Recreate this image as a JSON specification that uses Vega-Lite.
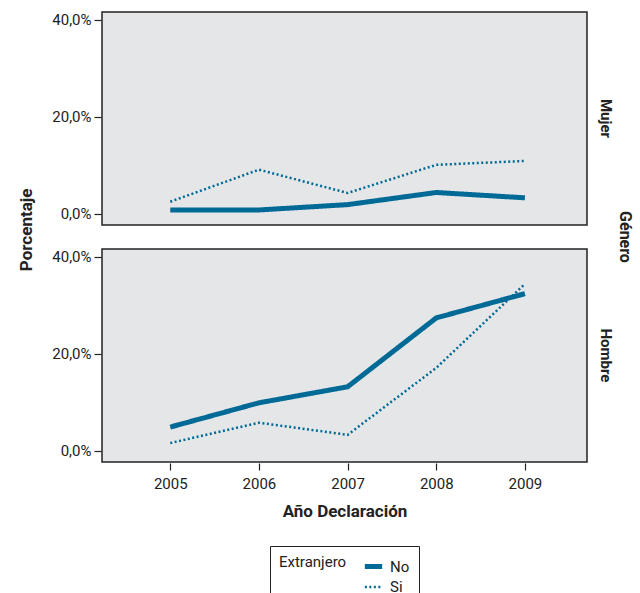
{
  "$schema": "https://vega.github.io/schema/vega-lite/v6.json",
  "padding": {"left": 17, "top": 11, "right": 5, "bottom": 0},
  "config": {
    "locale": {"number": {"decimal": ",", "thousands": ".", "grouping": [3], "currency": ["", " €"]}},
    "font": "Roboto",
    "view": {"fill": "#e5e6e8", "stroke": "#222222", "strokeWidth": 1.5},
    "axis": {"grid": false, "domain": false, "tickColor": "#222222", "tickSize": 7, "tickWidth": 1.2, "labelColor": "#222222", "labelFontSize": 15, "titleFontSize": 17, "titleFontWeight": "bold", "titleColor": "#222222"},
    "header": {"labelFontSize": 15, "labelFontWeight": "bold", "labelColor": "#222222", "titleFontSize": 16, "titleFontWeight": "bold", "titleColor": "#222222"},
    "legend": {"labelFontSize": 15, "titleFontSize": 15, "titleFontWeight": "normal", "labelColor": "#222222", "titleColor": "#222222"}
  },
  "title": {"text": "Porcentaje", "orient": "left", "anchor": "middle", "fontSize": 17, "fontWeight": "bold", "color": "#222222", "offset": 16, "dx": 78},
  "data": {"values": [
    {"Genero": "Mujer", "Extranjero": "No", "Anio": 2005, "Pct": 0.008},
    {"Genero": "Mujer", "Extranjero": "No", "Anio": 2006, "Pct": 0.008},
    {"Genero": "Mujer", "Extranjero": "No", "Anio": 2007, "Pct": 0.019},
    {"Genero": "Mujer", "Extranjero": "No", "Anio": 2008, "Pct": 0.044},
    {"Genero": "Mujer", "Extranjero": "No", "Anio": 2009, "Pct": 0.033},
    {"Genero": "Mujer", "Extranjero": "Si", "Anio": 2005, "Pct": 0.025},
    {"Genero": "Mujer", "Extranjero": "Si", "Anio": 2006, "Pct": 0.091},
    {"Genero": "Mujer", "Extranjero": "Si", "Anio": 2007, "Pct": 0.043},
    {"Genero": "Mujer", "Extranjero": "Si", "Anio": 2008, "Pct": 0.101},
    {"Genero": "Mujer", "Extranjero": "Si", "Anio": 2009, "Pct": 0.109},
    {"Genero": "Hombre", "Extranjero": "No", "Anio": 2005, "Pct": 0.049},
    {"Genero": "Hombre", "Extranjero": "No", "Anio": 2006, "Pct": 0.099},
    {"Genero": "Hombre", "Extranjero": "No", "Anio": 2007, "Pct": 0.132},
    {"Genero": "Hombre", "Extranjero": "No", "Anio": 2008, "Pct": 0.274},
    {"Genero": "Hombre", "Extranjero": "No", "Anio": 2009, "Pct": 0.324},
    {"Genero": "Hombre", "Extranjero": "Si", "Anio": 2005, "Pct": 0.016},
    {"Genero": "Hombre", "Extranjero": "Si", "Anio": 2006, "Pct": 0.058},
    {"Genero": "Hombre", "Extranjero": "Si", "Anio": 2007, "Pct": 0.033},
    {"Genero": "Hombre", "Extranjero": "Si", "Anio": 2008, "Pct": 0.171},
    {"Genero": "Hombre", "Extranjero": "Si", "Anio": 2009, "Pct": 0.344}
  ]},
  "facet": {
    "row": {
      "field": "Genero", "type": "nominal", "sort": ["Mujer", "Hombre"], "title": "Género",
      "header": {"labelOrient": "right", "labelAngle": 90, "labelPadding": 10, "titleOrient": "right", "titleAngle": 90, "titlePadding": -6}
    }
  },
  "spacing": {"row": 22},
  "spec": {
    "width": 485,
    "height": 213,
    "mark": {"type": "line", "color": "#006a96", "strokeCap": "butt"},
    "encoding": {
      "x": {"field": "Anio", "type": "quantitative", "title": "Año Declaración",
        "scale": {"domain": [2004.23, 2009.7], "nice": false, "zero": false},
        "axis": {"values": [2005, 2006, 2007, 2008, 2009], "format": "d", "labelPadding": 6, "titlePadding": 12}},
      "y": {"field": "Pct", "type": "quantitative", "title": null,
        "scale": {"domain": [-0.023, 0.416], "nice": false, "zero": false},
        "axis": {"values": [0, 0.2, 0.4], "format": ".1%", "labelPadding": 3}},
      "strokeDash": {"field": "Extranjero", "type": "nominal", "title": "Extranjero",
        "scale": {"domain": ["No", "Si"], "range": [[1, 0], [2, 2.5]]},
        "legend": {"orient": "none", "legendX": 168, "legendY": 534, "direction": "vertical", "titleOrient": "left", "titleAnchor": "start", "titlePadding": 15, "strokeColor": "#222222", "padding": 9, "symbolSize": 300, "labelOffset": 5, "rowPadding": -2, "labelExpr": "datum.label + '\u00a0\u00a0\u00a0\u00a0\u00a0\u00a0\u00a0\u00a0'"}},
      "strokeWidth": {"field": "Extranjero", "type": "nominal", "title": "Extranjero",
        "scale": {"domain": ["No", "Si"], "range": [5, 2.5]},
        "legend": {"orient": "none", "legendX": 168, "legendY": 534, "direction": "vertical", "titleOrient": "left", "titleAnchor": "start", "titlePadding": 15, "strokeColor": "#222222", "padding": 9, "symbolSize": 300, "labelOffset": 5, "rowPadding": -2, "labelExpr": "datum.label + '\u00a0\u00a0\u00a0\u00a0\u00a0\u00a0\u00a0\u00a0'"}}
    }
  },
  "resolve": {"scale": {"x": "shared", "y": "shared"}}
}
